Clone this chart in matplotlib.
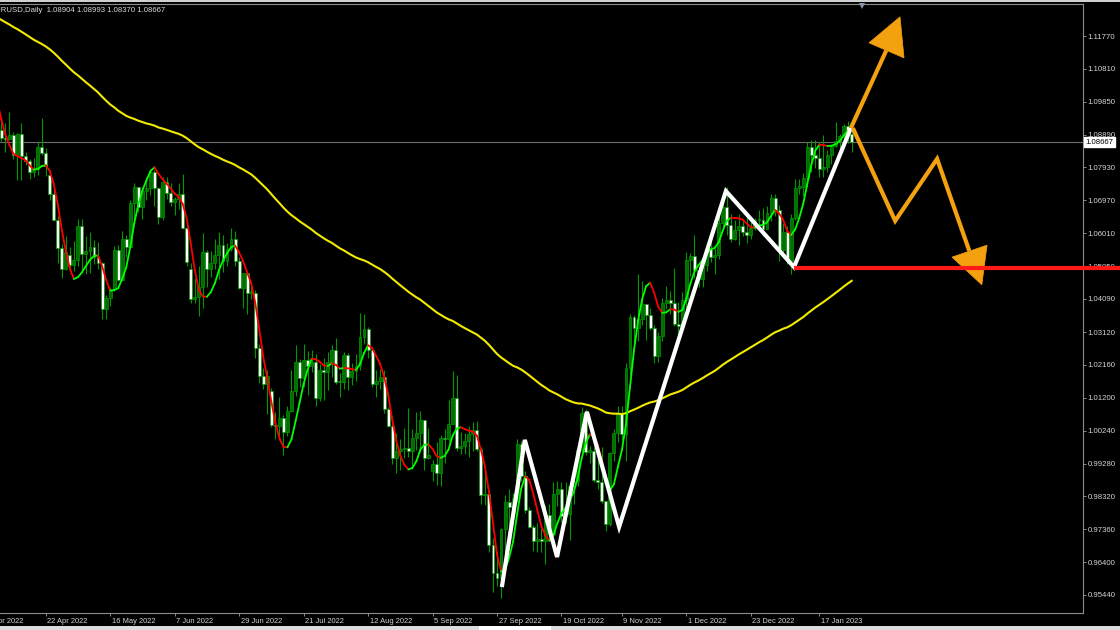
import numpy as np
import pandas as pd
import matplotlib
matplotlib.use("Agg")
import matplotlib.pyplot as plt
from matplotlib.collections import LineCollection
from matplotlib.patches import Rectangle, Polygon
import matplotlib.transforms as mtransforms

# ---------------- data (EURUSD daily) ----------------
title_text = "EURUSD,Daily  1.08904 1.08993 1.08370 1.08667"
first_day, last_day = "2022-04-01", "2023-01-27"

open_ = [
    1.1065,1.1046,1.0970,1.0904,1.0901,1.0880,1.0876,1.0888,1.0828,1.0891,1.0827,1.0811,1.0780,1.0788,1.0852,1.0835,1.0770,1.0714,1.0640,1.0557,1.0497,
    1.0537,1.0509,1.0524,1.0621,1.0541,1.0550,1.0561,1.0530,1.0513,1.0380,1.0411,1.0437,1.0553,1.0465,1.0585,1.0562,1.0690,1.0735,1.0678,1.0724,1.0732,1.0779,
    1.0733,1.0647,1.0750,1.0718,1.0692,1.0700,1.0716,1.0617,1.0495,1.0409,1.0415,1.0445,1.0547,1.0496,1.0514,1.0537,1.0567,1.0520,1.0555,1.0583,1.0519,1.0441,
    1.0484,1.0425,1.0425,1.0265,1.0183,1.0160,1.0140,1.0040,1.0037,1.0062,1.0020,1.0080,1.0141,1.0226,1.0178,1.0230,1.0212,1.0225,1.0120,1.0200,1.0195,
    1.0225,1.0260,1.0165,1.0167,1.0246,1.0182,1.0197,1.0212,1.0298,1.0321,1.0259,1.0160,1.0170,1.0180,1.0088,1.0039,0.9943,0.9966,0.9970,0.9973,0.9964,1.0002,1.0017,
    1.0054,0.9944,0.9905,0.9927,0.9900,1.0002,1.0000,1.0043,1.0120,0.9973,0.9979,0.9995,1.0013,1.0025,0.9970,0.9835,0.9838,0.9690,0.9607,0.9593,0.9736,0.9816,
    0.9801,0.9826,0.9986,0.9892,0.9791,0.9743,0.9702,0.9707,0.9702,0.9779,0.9723,0.9840,0.9855,0.9774,0.9780,0.9862,0.9876,0.9967,1.0077,0.9963,0.9965,
    0.9881,0.9873,0.9818,0.9750,0.9960,1.0018,1.0073,1.0013,1.0206,1.0355,1.0325,1.0350,1.0393,1.0363,1.0325,1.0243,1.0302,1.0398,1.0406,1.0398,1.0336,1.0330,
    1.0406,1.0524,1.0535,1.0493,1.0466,1.0507,1.0556,1.0530,1.0538,1.0630,1.0677,1.0625,1.0585,1.0609,1.0623,1.0605,1.0595,1.0615,1.0638,1.0638,1.0613,1.0660,
    1.0705,1.0670,1.0552,1.0605,1.0521,1.0645,1.0734,1.0735,1.0762,1.0852,1.0830,1.0820,1.0789,1.0794,1.0829,1.0856,1.0870,1.0885,1.0913,1.08904,
]
high = [
    1.1076,1.1053,1.0988,1.0936,1.0934,1.0922,1.0956,1.0896,1.0894,1.0924,1.0838,1.0819,1.0820,1.0868,1.0936,1.0851,1.0785,1.0737,1.0650,1.0569,1.0594,
    1.0560,1.0578,1.0642,1.0641,1.0593,1.0605,1.0580,1.0576,1.0516,1.0419,1.0443,1.0564,1.0566,1.0607,1.0597,1.0697,1.0748,1.0737,1.0737,1.0765,1.0787,1.0786,
    1.0737,1.0765,1.0764,1.0749,1.0708,1.0748,1.0774,1.0633,1.0513,1.0469,1.0506,1.0601,1.0551,1.0548,1.0583,1.0605,1.0595,1.0572,1.0615,1.0606,1.0532,1.0485,
    1.0486,1.0462,1.0436,1.0276,1.0208,1.0200,1.0148,1.0079,1.0121,1.0071,1.0097,1.0200,1.0273,1.0233,1.0278,1.0256,1.0259,1.0248,1.0219,1.0235,1.0254,
    1.0275,1.0294,1.0192,1.0254,1.0250,1.0222,1.0249,1.0368,1.0364,1.0327,1.0268,1.0201,1.0203,1.0201,1.0093,1.0047,1.0018,0.9999,1.0033,1.0090,1.0028,1.0079,1.0080,
    1.0055,1.0033,0.9938,0.9990,1.0011,1.0029,1.0113,1.0198,1.0187,1.0020,1.0017,1.0037,1.0050,1.0051,0.9976,0.9907,0.9852,0.9709,0.9671,0.9739,0.9837,0.9853,
    0.9841,0.9999,0.9995,0.9905,0.9801,0.9749,0.9753,0.9741,0.9808,0.9809,0.9874,0.9876,0.9874,0.9875,0.9871,0.9898,0.9977,1.0094,1.0088,0.9980,0.9976,
    0.9954,0.9976,0.9819,0.9961,1.0030,1.0095,1.0096,1.0222,1.0365,1.0363,1.0481,1.0462,1.0394,1.0383,1.0332,1.0312,1.0412,1.0448,1.0433,1.0498,1.0399,1.0428,
    1.0545,1.0544,1.0596,1.0505,1.0531,1.0564,1.0588,1.0559,1.0673,1.0695,1.0736,1.0656,1.0638,1.0658,1.0640,1.0658,1.0638,1.0645,1.0670,1.0675,1.0679,1.0715,
    1.0714,1.0683,1.0630,1.0622,1.0657,1.0760,1.0760,1.0777,1.0866,1.0874,1.0874,1.0868,1.0887,1.0843,1.0860,1.0927,1.0890,1.0920,1.0929,1.08993,
]
low = [
    1.1028,1.0967,1.0900,1.0873,1.0870,1.0838,1.0872,1.0819,1.0757,1.0757,1.0800,1.0760,1.0766,1.0771,1.0828,1.0767,1.0697,1.0636,1.0515,1.0471,1.0494,
    1.0490,1.0491,1.0505,1.0493,1.0483,1.0485,1.0511,1.0497,1.0350,1.0350,1.0389,1.0431,1.0460,1.0462,1.0532,1.0560,1.0642,1.0662,1.0643,1.0697,1.0712,1.0680,
    1.0627,1.0640,1.0702,1.0679,1.0653,1.0673,1.0612,1.0506,1.0398,1.0397,1.0359,1.0381,1.0444,1.0473,1.0497,1.0468,1.0488,1.0506,1.0550,1.0505,1.0437,1.0382,
    1.0366,1.0409,1.0235,1.0162,1.0145,1.0072,1.0036,0.9999,0.9998,0.9952,1.0007,1.0078,1.0124,1.0153,1.0153,1.0129,1.0194,1.0096,1.0110,1.0114,1.0144,
    1.0180,1.0160,1.0123,1.0145,1.0142,1.0157,1.0170,1.0202,1.0276,1.0237,1.0153,1.0123,1.0147,1.0075,1.0034,0.9926,0.9900,0.9910,0.9945,0.9948,0.9911,0.9967,0.9963,
    0.9910,0.9940,0.9877,0.9864,0.9863,0.9929,0.9990,1.0043,0.9966,0.9955,0.9956,0.9946,0.9966,0.9966,0.9810,0.9807,0.9670,0.9553,0.9571,0.9535,0.9635,0.9749,
    0.9753,0.9816,0.9876,0.9784,0.9740,0.9671,0.9670,0.9670,0.9633,0.9711,0.9720,0.9803,0.9757,0.9755,0.9705,0.9810,0.9862,0.9962,0.9953,0.9930,0.9874,
    0.9854,0.9813,0.9731,0.9745,0.9934,0.9990,0.9996,0.9935,1.0186,1.0270,1.0286,1.0333,1.0290,1.0317,1.0223,1.0226,1.0285,1.0378,1.0364,1.0329,1.0290,1.0311,
    1.0383,1.0475,1.0470,1.0444,1.0443,1.0491,1.0516,1.0483,1.0525,1.0617,1.0595,1.0575,1.0580,1.0566,1.0592,1.0573,1.0585,1.0610,1.0610,1.0594,1.0612,1.0637,
    1.0652,1.0519,1.0545,1.0512,1.0483,1.0640,1.0714,1.0711,1.0735,1.0780,1.0792,1.0765,1.0766,1.0780,1.0804,1.0852,1.0834,1.0854,1.0865,1.08370,
]
close = [
    1.1046,1.0970,1.0904,1.0901,1.0880,1.0876,1.0888,1.0828,1.0891,1.0827,1.0811,1.0780,1.0788,1.0852,1.0835,1.0796,1.0714,1.0640,1.0557,1.0497,1.0545,
    1.0509,1.0524,1.0621,1.0541,1.0550,1.0561,1.0530,1.0513,1.0380,1.0411,1.0437,1.0553,1.0465,1.0585,1.0562,1.0690,1.0735,1.0678,1.0724,1.0732,1.0779,1.0733,
    1.0647,1.0750,1.0718,1.0692,1.0700,1.0716,1.0617,1.0518,1.0409,1.0415,1.0445,1.0547,1.0496,1.0514,1.0537,1.0567,1.0520,1.0555,1.0583,1.0519,1.0441,1.0484,
    1.0425,1.0425,1.0265,1.0183,1.0160,1.0185,1.0040,1.0037,1.0062,1.0020,1.0080,1.0141,1.0226,1.0178,1.0230,1.0212,1.0225,1.0120,1.0200,1.0195,1.0225,
    1.0260,1.0165,1.0167,1.0246,1.0182,1.0197,1.0212,1.0298,1.0321,1.0259,1.0160,1.0170,1.0180,1.0088,1.0039,0.9943,0.9966,0.9970,0.9973,0.9964,1.0002,1.0017,1.0056,
    0.9944,0.9953,0.9927,0.9900,1.0002,1.0000,1.0043,1.0120,0.9973,0.9979,0.9995,1.0013,1.0025,0.9970,0.9835,0.9838,0.9690,0.9607,0.9593,0.9736,0.9816,0.9801,
    0.9826,0.9986,0.9892,0.9791,0.9743,0.9702,0.9707,0.9702,0.9779,0.9723,0.9840,0.9855,0.9774,0.9780,0.9862,0.9876,0.9967,1.0077,0.9963,0.9965,0.9881,
    0.9873,0.9818,0.9750,0.9960,1.0018,1.0073,1.0013,1.0206,1.0355,1.0325,1.0350,1.0393,1.0363,1.0325,1.0243,1.0302,1.0398,1.0406,1.0398,1.0336,1.0330,1.0406,
    1.0524,1.0535,1.0493,1.0466,1.0507,1.0556,1.0530,1.0538,1.0630,1.0677,1.0625,1.0585,1.0609,1.0623,1.0605,1.0595,1.0615,1.0638,1.0638,1.0613,1.0660,1.0705,
    1.0670,1.0552,1.0605,1.0521,1.0645,1.0734,1.0735,1.0762,1.0852,1.0830,1.0820,1.0789,1.0794,1.0829,1.0856,1.0870,1.0885,1.0913,1.0890,1.08667,
]
# March 2022 closes (off-screen, only used to warm up the smoothing line)
warmup_close = [1.0985,1.0912,1.0942,1.0955,1.1035,1.1092,1.1051,1.1017,1.1030,1.1004,1.0998,1.0984,1.0986,1.1088,1.1158,1.1067]

ema_period = 100
ema_seed = 1.1250        # value of the yellow average at the first bar
hull_period = 14
bid_price = 1.08667

price_ticks = [1.11770,1.10810,1.09850,1.08890,1.07930,1.06970,1.06010,1.05050,1.04090,
               1.03120,1.02160,1.01200,1.00240,0.99280,0.98320,0.97360,0.96400,0.95440]
date_tick_days = ["2022-04-01","2022-04-22","2022-05-16","2022-06-07","2022-06-29","2022-07-21",
                  "2022-08-12","2022-09-05","2022-09-27","2022-10-19","2022-11-09","2022-12-01",
                  "2022-12-23","2023-01-17"]
date_tick_labels = ["1 Apr 2022","22 Apr 2022","16 May 2022","7 Jun 2022","29 Jun 2022","21 Jul 2022",
                    "12 Aug 2022","5 Sep 2022","27 Sep 2022","19 Oct 2022","9 Nov 2022","1 Dec 2022",
                    "23 Dec 2022","17 Jan 2023"]

# hand-drawn annotations (bar number counted from 1 Apr 2022, price)
zigzag_bar   = [128.2, 133.9, 141.9, 149.3, 157.3, 183.8, 200.7, 214.8]
zigzag_price = [0.9567, 0.9997, 0.9655, 1.0079, 0.9743, 1.0724, 1.0502, 1.0908]
support_bar, support_price = 200.7, 1.0498
up_arrow_bar   = [214.8, 223.6]
up_arrow_price = [1.0908, 1.1135]
up_head_bar    = [219.3, 227.0, 228.0]
up_head_price  = [1.1157, 1.1233, 1.1113]
down_path_bar   = [215.3, 225.8, 236.2, 244.2]
down_path_price = [1.0908, 1.0637, 1.0818, 1.0549]
down_head_bar   = [239.9, 248.6, 247.3]
down_head_price = [1.0531, 1.0566, 1.0450]
shift_marker_bar = 217.6

# ---------------- figure ----------------
W, H = 1120, 630
fig = plt.figure(figsize=(W / 100, H / 100), dpi=100, facecolor="black")
ax_left, ax_right, ax_top, ax_bottom = 0, 1083, 4, 613
ax = fig.add_axes([ax_left / W, (H - ax_bottom) / H, (ax_right - ax_left) / W, (ax_bottom - ax_top) / H])
ax.set_facecolor("black")

dates = pd.bdate_range(first_day, last_day)
o = np.array(open_); h = np.array(high); l = np.array(low); c = np.array(close)
assert len(dates) == len(o) == len(h) == len(l) == len(c)
x = np.arange(len(dates))

px_per_bar = 4.03
x0_px = -14.8
xlim = ((0 - x0_px) / px_per_bar, (ax_right - x0_px) / px_per_bar)
ylim = (0.94913, 1.12705)

# candles
wick_col = "#009a00"
bull = c >= o
ax.vlines(x, l, h, color=wick_col, lw=0.8, zorder=2)
body_bottom = np.minimum(o, c)
body_h = np.maximum(np.abs(c - o), 0.00035)
ax.bar(x[bull], body_h[bull], bottom=body_bottom[bull], width=0.72, color="#006e00",
       edgecolor=wick_col, linewidth=0.5, zorder=3)
ax.bar(x[~bull], body_h[~bull], bottom=body_bottom[~bull], width=0.72, color="white",
       edgecolor=wick_col, linewidth=0.5, zorder=3)

# yellow EMA
ema = np.empty(len(c))
ema[0] = ema_seed
alpha = 2.0 / (ema_period + 1)
for i in range(1, len(c)):
    ema[i] = ema[i - 1] + alpha * (c[i] - ema[i - 1])
ax.plot(x, ema, color="#f2ea00", lw=1.5, zorder=4)

# Hull moving average, coloured by direction
def wma(arr, n):
    w = np.arange(1, n + 1, dtype=float)
    out = np.full(len(arr), np.nan)
    for i in range(n - 1, len(arr)):
        out[i] = np.dot(arr[i - n + 1:i + 1], w) / w.sum()
    return out

full_c = np.array(warmup_close + close)
raw = 2 * wma(full_c, hull_period // 2) - wma(full_c, hull_period)
hma = wma(raw, int(np.sqrt(hull_period)))[len(warmup_close):]
segs, cols = [], []
for i in range(1, len(hma)):
    if np.isnan(hma[i - 1]) or np.isnan(hma[i]):
        continue
    segs.append([(x[i - 1], hma[i - 1]), (x[i], hma[i])])
    cols.append("#00ff00" if hma[i] >= hma[i - 1] else "#ff0000")
ax.add_collection(LineCollection(segs, colors=cols, linewidths=1.3, zorder=5, capstyle="round"))

# bid line
ax.axhline(bid_price, color="#6e6e6e", lw=0.8, zorder=1)

# white zigzag
ax.plot(zigzag_bar, zigzag_price, color="white", lw=3.0, zorder=7,
        solid_joinstyle="miter", solid_capstyle="butt")

# orange scenario arrows
orange = "#f4a10f"
ax.plot(up_arrow_bar, up_arrow_price, color=orange, lw=3.0, zorder=8, solid_capstyle="butt")
ax.add_patch(Polygon(list(zip(up_head_bar, up_head_price)), closed=True, fc=orange, ec=orange,
                     lw=0.5, zorder=8, clip_on=False))
ax.plot(down_path_bar, down_path_price, color=orange, lw=3.0, zorder=8,
        solid_joinstyle="miter", solid_capstyle="butt")
ax.add_patch(Polygon(list(zip(down_head_bar, down_head_price)), closed=True, fc=orange, ec=orange,
                     lw=0.5, zorder=8, clip_on=False))

# red support line running over the price scale to the figure edge
x_fig_edge = xlim[1] + (xlim[1] - xlim[0]) * (W - ax_right) / (ax_right - ax_left)
ax.plot([support_bar, x_fig_edge], [support_price, support_price], color="#ff1a1a", lw=3.0,
        zorder=20, clip_on=False, solid_capstyle="butt")

# shift marker at top
ax.plot([shift_marker_bar], [ylim[1] - 0.0006], marker="v", ms=4, color="#8a96a8",
        clip_on=False, zorder=10, markeredgewidth=0)

# axes styling
ax.spines["left"].set_visible(False)
for side in ["right", "bottom", "top"]:
    ax.spines[side].set_color("#8c8c8c")
    ax.spines[side].set_linewidth(0.8)

font = "Liberation Sans"
label_col = "#d4d4d4"
ax.yaxis.tick_right()
ax.set_yticks(price_ticks)
ax.set_yticklabels([f"{p:.5f}" for p in price_ticks], fontfamily=font)
ax.tick_params(axis="y", direction="out", length=2.2, width=0.7, color="#8c8c8c",
               labelcolor=label_col, labelsize=5.6, pad=1.2)

tick_idx = [dates.get_loc(pd.Timestamp(d)) for d in date_tick_days]
# the first date label sits left of the window edge: drawn as text so it is cut like in the terminal
ax.set_xticks(tick_idx[1:])
ax.set_xticklabels(date_tick_labels[1:], fontfamily=font)
ax.tick_params(axis="x", direction="out", length=2.5, width=0.7, color="#8c8c8c",
               labelcolor=label_col, labelsize=5.4, pad=0.8)
offset = mtransforms.ScaledTranslation(1.5 / 100, 0, fig.dpi_scale_trans)
for lab in ax.get_xticklabels():
    lab.set_horizontalalignment("left")
    lab.set_transform(lab.get_transform() + offset)

# limits last (set_xticks may widen them)
ax.set_xlim(*xlim)
ax.set_ylim(*ylim)

first_lab_tr = ax.get_xaxis_transform() + mtransforms.ScaledTranslation(1.5 / 100, -3.3 / 72, fig.dpi_scale_trans)
ax.text(tick_idx[0], 0, date_tick_labels[0], transform=first_lab_tr, fontsize=5.4, fontfamily=font,
        color=label_col, ha="left", va="top", clip_on=False)

# bid price label box
trans = mtransforms.blended_transform_factory(ax.transAxes, ax.transData)
ax.text(1.0025, bid_price, f"{bid_price:.5f}", transform=trans, fontsize=5.6, fontfamily=font,
        color="black", va="center", ha="left", zorder=30, clip_on=False,
        bbox=dict(boxstyle="square,pad=0.18", fc="white", ec="white"))

# title (first letters cut by the window edge, as in the terminal)
fig.text(-10 / W, 1 - 11 / H, title_text, fontsize=5.6, fontfamily=font, color="#dcdcdc",
         ha="left", va="center")

# window strips
fig.add_artist(Rectangle((0, 1 - 2 / H), 1, 2 / H, transform=fig.transFigure, fc="#cfcfcf", ec="none"))
fig.add_artist(Rectangle((0, 0), 1, 4 / H, transform=fig.transFigure, fc="#dcdcdc", ec="none"))
fig.add_artist(Rectangle((479 / W, 0), 72 / W, 4 / H, transform=fig.transFigure, fc="white", ec="none"))

fig.savefig("out.png", dpi=100, facecolor="black")
